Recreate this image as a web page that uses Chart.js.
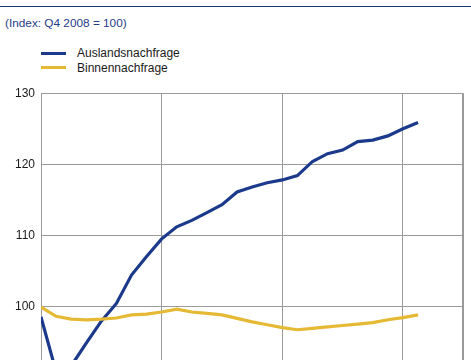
<!DOCTYPE html>
<html>
<head>
<meta charset="utf-8">
<script src="https://cdn.jsdelivr.net/npm/chart.js@4.4.1/dist/chart.umd.min.js"></script>
<style>
  html, body { margin: 0; padding: 0; width: 471px; height: 360px; overflow: hidden; background: #fff; }
  #wrap { position: relative; width: 471px; height: 360px; overflow: hidden; }
  #rule { position: absolute; left: 0; top: 6px; width: 471px; height: 1px; background: #1d3570; }
  #subtitle { position: absolute; left: 5px; top: 16px; font: 11.8px "Liberation Sans", Arial, sans-serif; color: #1f3d8a; white-space: nowrap; }
  #legend { position: absolute; left: 41px; top: 46px; font: 12px "Liberation Sans", Arial, sans-serif; color: #1a1a1a; }
  .li { height: 14.5px; display: flex; align-items: center; white-space: nowrap; }
  .sw { width: 25px; height: 3px; margin-right: 11px; }
  #c { position: absolute; left: 0; top: 0; }
</style>
</head>
<body>
<div id="wrap">
  <div id="rule"></div>
  <div id="subtitle">(Index: Q4 2008 = 100)</div>
  <div id="legend"></div>
  <canvas id="c" width="471" height="470" style="width:471px;height:470px"></canvas>
</div>
<script>
// Data (index values, Q4 2008 = 100), one point per period
const periods = [0,1,2,3,4,5,6,7,8,9,10,11,12,13,14,15,16,17,18,19,20,21,22,23,24,25];
const auslandsnachfrage = [98.5, 90.8, 91.6, 94.8, 97.9, 100.4, 104.4, 107.0, 109.5, 111.2, 112.1, 113.2, 114.3, 116.1, 116.8, 117.4, 117.8, 118.4, 120.4, 121.5, 122.0, 123.2, 123.4, 124.0, 125.0, 125.9];
const binnennachfrage   = [99.9, 98.6, 98.2, 98.1, 98.2, 98.35, 98.8, 98.9, 99.2, 99.6, 99.2, 99.0, 98.8, 98.3, 97.8, 97.4, 97.0, 96.7, 96.9, 97.1, 97.3, 97.5, 97.7, 98.1, 98.4, 98.8];
const seriesNames = ["Auslandsnachfrage", "Binnennachfrage"];
const yTicks = [80, 90, 100, 110, 120, 130];

const FONT = "'Liberation Sans', Arial, sans-serif";
const colors = ["#1b3a8b", "#e6b935"];

const toPts = arr => arr.map((v, i) => ({ x: periods[i], y: v }));

const chart = new Chart(document.getElementById('c'), {
  type: 'line',
  data: {
    datasets: [
      { label: seriesNames[0], data: toPts(auslandsnachfrage), borderColor: colors[0], backgroundColor: colors[0], borderWidth: 3.2, pointRadius: 0, tension: 0, order: 1 },
      { label: seriesNames[1], data: toPts(binnennachfrage), borderColor: colors[1], backgroundColor: colors[1], borderWidth: 3.2, pointRadius: 0, tension: 0, order: 0 }
    ]
  },
  options: {
    responsive: false,
    animation: false,
    devicePixelRatio: 1,
    layout: { padding: { top: 93.3, right: 7.7, left: 0, bottom: 0 } },
    plugins: { legend: { display: false }, title: { display: false }, tooltip: { enabled: false } },
    scales: {
      x: {
        type: 'linear', min: 0, max: 28,
        ticks: { stepSize: 8, display: false, includeBounds: true },
        grid: { color: '#9a9a9a', lineWidth: 1, drawTicks: false },
        border: { display: true, color: '#9a9a9a' },
        afterFit: s => { s.height = 470 - 448.3; }
      },
      y: {
        min: yTicks[0], max: yTicks[yTicks.length - 1],
        afterBuildTicks: s => { s.ticks = yTicks.map(v => ({ value: v })); },
        ticks: { color: '#1a1a1a', font: { family: FONT, size: 12 }, padding: 6 },
        grid: { color: '#9a9a9a', lineWidth: 1, drawTicks: false },
        border: { display: true, color: '#9a9a9a' },
        afterFit: s => { s.width = 41; }
      }
    }
  },
  plugins: [{
    id: 'rightBorder',
    afterDraw(ch) {
      const a = ch.chartArea, ctx = ch.ctx;
      ctx.save();
      ctx.strokeStyle = '#9a9a9a'; ctx.lineWidth = 1;
      ctx.beginPath();
      ctx.moveTo(Math.round(a.right) - 0.5, a.top);
      ctx.lineTo(Math.round(a.right) - 0.5, a.bottom);
      ctx.stroke();
      ctx.restore();
    }
  }]
});

// HTML legend built from the chart's datasets
const lg = document.getElementById('legend');
chart.data.datasets.forEach(ds => {
  const row = document.createElement('div'); row.className = 'li';
  const sw = document.createElement('span'); sw.className = 'sw'; sw.style.background = ds.borderColor;
  const tx = document.createElement('span'); tx.textContent = ds.label;
  row.appendChild(sw); row.appendChild(tx); lg.appendChild(row);
});
</script>
</body>
</html>
